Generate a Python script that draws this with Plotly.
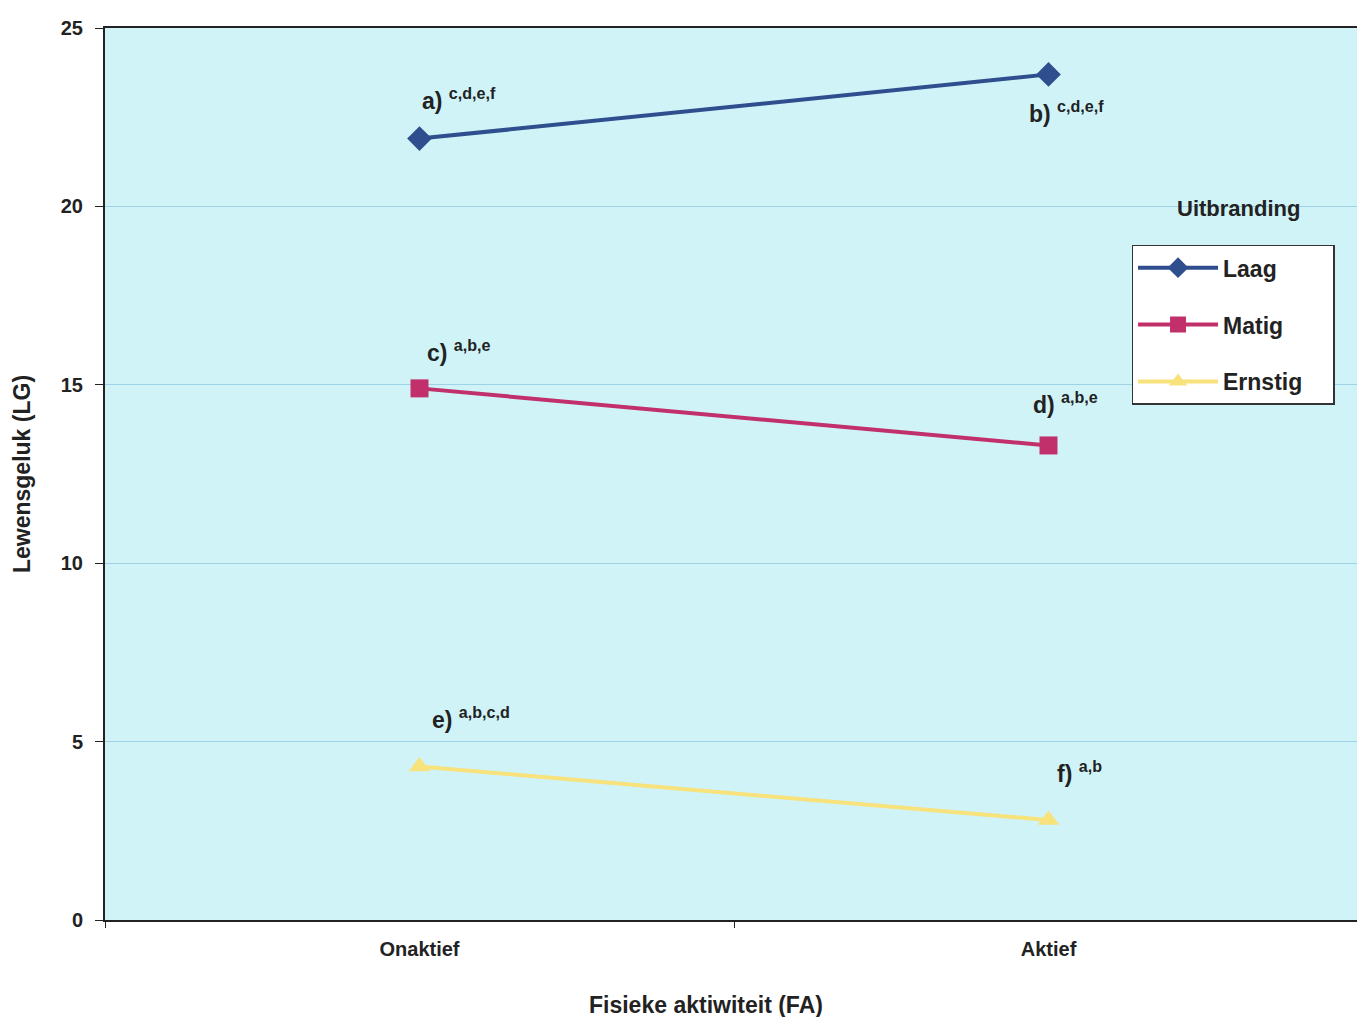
import plotly.graph_objects as go

categories = ["Onaktief", "Aktief"]
laag = [21.9, 23.7]
matig = [14.9, 13.3]
ernstig = [4.3, 2.8]
series_names = ["Laag", "Matig", "Ernstig"]

label_text = ["a)", "b)", "c)", "d)", "e)", "f)"]
label_sup = ["c,d,e,f", "c,d,e,f", "a,b,e", "a,b,e", "a,b,c,d", "a,b"]
label_x = [0, 1, 0, 1, 0, 1]
label_y = [23.0, 22.65, 15.95, 14.5, 5.65, 4.15]
label_xshift = [0, -22, 5, -18, 10, 6]

FONT = "Liberation Sans, Arial, sans-serif"

fig = go.Figure()
styles = [
    ("#2F4E8E", "diamond", 19),
    ("#C2306B", "square", 18),
    ("#F7E27C", "triangle-up", 19),
]
for name, vals, (col, sym, sz) in zip(series_names, [laag, matig, ernstig], styles):
    fig.add_trace(go.Scatter(
        x=categories, y=vals, name=name + "\u00a0\u00a0\u00a0\u00a0", mode="lines+markers",
        legendgroup=name,
        line=dict(color=col, width=4),
        marker=dict(symbol=sym, size=sz, color=col),
    ))

anns = []
for t, s, xi, yv, xs in zip(label_text, label_sup, label_x, label_y, label_xshift):
    anns.append(dict(
        x=categories[xi], y=yv, xref="x", yref="y",
        text="<b>%s <sup>%s</sup></b>" % (t, s),
        showarrow=False, xanchor="left", yanchor="middle", xshift=xs,
        font=dict(family=FONT, size=23, color="#222222"),
    ))
anns.append(dict(
    x=0.901, y=0.798, xref="paper", yref="paper", text="<b>Uitbranding</b>",
    showarrow=False, xanchor="center", yanchor="middle",
    font=dict(family=FONT, size=22, color="#222222"),
))
anns.append(dict(
    x=0.478, y=-0.095, xref="paper", yref="paper", text="<b>Fisieke aktiwiteit (FA)</b>",
    showarrow=False, xanchor="center", yanchor="middle",
    font=dict(family=FONT, size=23, color="#222222"),
))

fig.update_layout(
    width=1357, height=1009,
    margin=dict(l=97, r=0, t=20, b=97),
    paper_bgcolor="white",
    plot_bgcolor="#D0F3F8",
    font=dict(family=FONT, color="#222222"),
    annotations=anns,
    legend=dict(
        x=0.816, y=0.757, xanchor="left", yanchor="top",
        bgcolor="white", bordercolor="#333333", borderwidth=1.5,
        font=dict(family=FONT, size=23, color="#222222", weight="bold"),
        itemwidth=80, tracegroupgap=24, traceorder="grouped",
    ),
    xaxis=dict(
        type="category", range=[-0.5, 1.5],
        showline=True, linecolor="#222222", linewidth=2, mirror=True,
        ticks="outside", tickson="boundaries", ticklen=6, tickcolor="#222222",
        ticklabelstandoff=10,
        tickfont=dict(family=FONT, size=20, color="#222222", weight="bold"),
        showgrid=False, zeroline=False,
    ),
    yaxis=dict(
        range=[0, 25], dtick=5,
        showline=True, linecolor="#222222", linewidth=2, mirror=True,
        ticks="outside", ticklen=8, tickcolor="#222222",
        ticklabelstandoff=8,
        tickfont=dict(family=FONT, size=20, color="#222222", weight="bold"),
        showgrid=True, gridcolor="#9ED2E6", gridwidth=1, zeroline=False,
        title=dict(text="<b>Lewensgeluk (LG)</b>", standoff=24,
                   font=dict(family=FONT, size=23, color="#222222")),
    ),
)

fig.write_html("out.html")
